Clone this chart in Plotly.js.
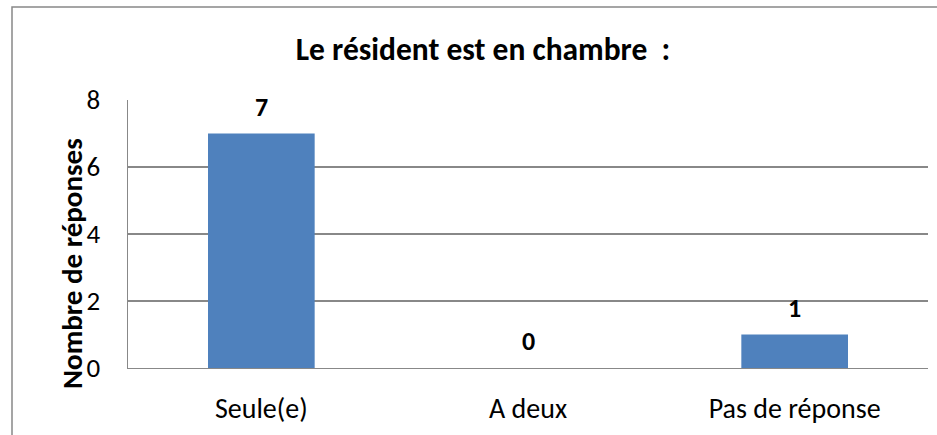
<!DOCTYPE html>
<html><head><meta charset="utf-8">
<script src="https://cdn.plot.ly/plotly-3.0.1.min.js"></script>
<style>html,body{margin:0;padding:0;background:#fff}#chart{width:937px;height:435px}</style>
</head><body><div id="chart"></div>
<script>
const categories = ["Seule(e)", "A deux", "Pas de réponse"];
const values = [7, 0, 1];
const yTicks = [0, 2, 4, 6, 8];
const titleText = "Le résident est en chambre  :";
const yTitleText = "Nombre de réponses";

const FONT = "Carlito, Lato, 'Open Sans', sans-serif";
const W = 937, H = 435, L = 128, R = 9, T = 100, B = 67;
const pw = W - L - R, ph = H - T - B;
const px = v => (v - L) / pw;
const py = v => (H - B - v) / ph;

const trace = {
  type: "bar",
  x: categories,
  y: values,
  width: 0.4,
  marker: {color: "#4F81BD"},
  hoverinfo: "none"
};

const annotations = categories.map((c, i) => ({
  x: c, y: values[i], xref: "x", yref: "y",
  text: "<b>" + values[i] + "</b>",
  showarrow: false, yshift: 27, xanchor: "center", yanchor: "middle",
  font: {family: FONT, size: 26, color: "#000"}
}));
annotations.push({
  xref: "paper", yref: "paper", x: px(72), y: py(264),
  xanchor: "center", yanchor: "middle",
  text: "<b>" + yTitleText + "</b>", textangle: -90, showarrow: false,
  font: {family: FONT, size: 29, color: "#000"}
});

const layout = {
  width: W, height: H,
  margin: {l: L, r: R, t: T, b: B},
  paper_bgcolor: "#fff", plot_bgcolor: "#fff",
  showlegend: false,
  title: {
    text: "<b>" + titleText + "</b>",
    x: 483 / W, xanchor: "center", xref: "container",
    y: 1 - 49 / H, yanchor: "middle", yref: "container",
    font: {family: FONT, size: 31.5, color: "#000"}
  },
  xaxis: {
    type: "category",
    showgrid: false, zeroline: false,
    showline: true, linecolor: "#888", linewidth: 1.3,
    ticks: "", ticklabelstandoff: 15,
    tickfont: {family: FONT, size: 28, color: "#000"},
    fixedrange: true
  },
  yaxis: {
    range: [0, 8],
    tickvals: yTicks, ticktext: yTicks.map(String),
    showgrid: true, gridcolor: "#888", gridwidth: 1.3,
    zeroline: false,
    showline: true, linecolor: "#888", linewidth: 1.3,
    ticks: "", ticklabelstandoff: 21,
    tickfont: {family: FONT, size: 27, color: "#000"},
    fixedrange: true
  },
  annotations: annotations,
  shapes: [{
    type: "rect", xref: "paper", yref: "paper",
    x0: px(12), x1: px(945), y0: py(445), y1: py(7),
    line: {color: "#888", width: 1.5}, fillcolor: "rgba(0,0,0,0)", layer: "below"
  }]
};

Plotly.newPlot("chart", [trace], layout, {displayModeBar: false, staticPlot: true});
</script></body></html>
